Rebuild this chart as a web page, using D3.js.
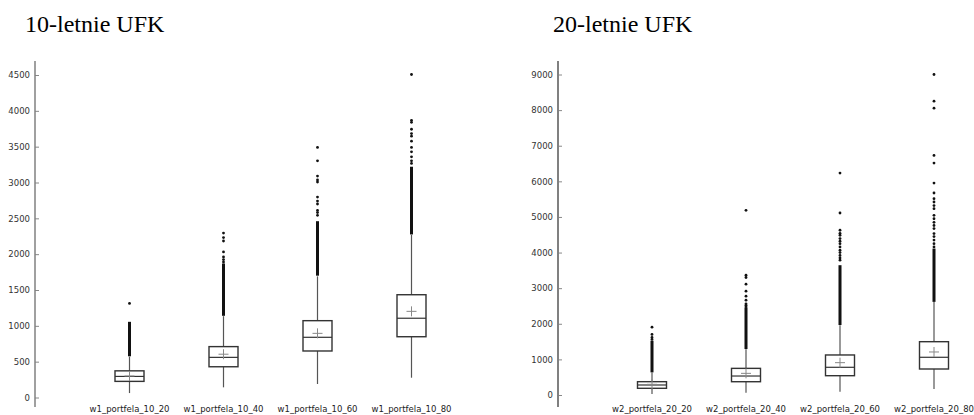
<!DOCTYPE html>
<html><head><meta charset="utf-8">
<script src="https://cdn.jsdelivr.net/npm/d3@7"></script>
<style>html,body{margin:0;padding:0;background:#fff;}svg{display:block;}</style>
</head><body>
<svg id="chart" width="974" height="415"></svg>
<script>
// ---- Panel 1: 10-letnie UFK ----
const titleA = "10-letnie UFK";
const catsA = ["w1_portfela_10_20","w1_portfela_10_40","w1_portfela_10_60","w1_portfela_10_80"];
const ticksA = [0,500,1000,1500,2000,2500,3000,3500,4000,4500];
const lowA = [62,142,188,276];
const q1A = [225,429,649,848];
const medA = [294,560,840,1106];
const q3A = [372,710,1072,1434];
const highA = [570,1135,1690,2270];
const meanA = [300,604,895,1202];
const denseA = [[575,1056],[1140,1870],[1700,2460],[2275,3220]];
const outA = [
  [1312],
  [1891,1925,1961,2031,2184,2231,2295],
  [2542,2580,2611,2700,2741,2797,3006,3035,3090,3303,3489],
  [3266,3303,3358,3428,3489,3576,3646,3683,3743,3840,3868,4507]
];

// ---- Panel 2: 20-letnie UFK ----
const titleB = "20-letnie UFK";
const catsB = ["w2_portfela_20_20","w2_portfela_20_40","w2_portfela_20_60","w2_portfela_20_80"];
const ticksB = [0,1000,2000,3000,4000,5000,6000,7000,8000,9000];
const lowB = [28,65,93,168];
const q1B = [188,373,542,730];
const medB = [281,533,778,1059];
const q3B = [374,748,1124,1497];
const highB = [630,1285,1960,2610];
const meanB = [300,608,908,1208];
const denseB = [[635,1523],[1290,2458],[1965,3645],[2615,4112]];
const outB = [
  [1560,1617,1701,1906],
  [2475,2520,2560,2663,2775,2916,3112,3299,3364,5186],
  [3785,3850,3920,4000,4065,4158,4250,4320,4392,4486,4540,4626,5111,6232],
  [4158,4250,4350,4450,4533,4673,4760,4850,4950,5046,5233,5320,5420,5513,5672,5952,6513,6728,8054,8250,9000]
];

const svg = d3.select("#chart");

function panel(cfg) {
  const g = svg.append("g");
  const y = d3.scaleLinear().domain([0, cfg.ticks[cfg.ticks.length-1]]).range(cfg.yRange);
  const x = d3.scalePoint().domain(cfg.cats).range(cfg.xRange);
  const bw = 29;

  g.append("text").attr("x", cfg.titleX).attr("y", 32)
    .attr("font-family", "'Liberation Serif', 'Times New Roman', serif")
    .attr("font-size", 24).attr("fill", "#000").text(cfg.title);

  // axis
  const axis = d3.axisRight(y).tickValues(cfg.ticks).tickSize(4).tickFormat(d3.format("d"));
  const ag = g.append("g").attr("transform", `translate(${cfg.axisX},0)`).call(axis);
  ag.select(".domain").remove();
  ag.selectAll(".tick line").attr("stroke", "#888").attr("stroke-width", 1);
  ag.selectAll(".tick text").attr("x", -5).attr("text-anchor", "end")
    .attr("font-family", "'DejaVu Sans', Verdana, sans-serif").attr("font-size", 8.5).attr("fill", "#333");
  g.append("line").attr("x1", cfg.axisX).attr("x2", cfg.axisX)
    .attr("y1", 61).attr("y2", 407).attr("stroke", "#808080").attr("stroke-width", cfg.axisW);

  const data = cfg.cats.map((c, i) => ({c, low: cfg.low[i], q1: cfg.q1[i], med: cfg.med[i], q3: cfg.q3[i],
    high: cfg.high[i], mean: cfg.mean[i], dense: cfg.dense[i], out: cfg.out[i]}));

  const bg = g.selectAll("g.box").data(data).enter().append("g").attr("class", "box");
  // whiskers
  bg.append("line").attr("x1", d => x(d.c)).attr("x2", d => x(d.c))
    .attr("y1", d => y(d.high)).attr("y2", d => y(d.q3)).attr("stroke", "#555").attr("stroke-width", 1.2);
  bg.append("line").attr("x1", d => x(d.c)).attr("x2", d => x(d.c))
    .attr("y1", d => y(d.q1)).attr("y2", d => y(d.low)).attr("stroke", "#555").attr("stroke-width", 1.2);
  // dense outlier runs
  bg.append("rect").attr("x", d => x(d.c) - 1.5).attr("width", 3)
    .attr("y", d => y(d.dense[1])).attr("height", d => y(d.dense[0]) - y(d.dense[1]))
    .attr("fill", "#111");
  // sparse outliers
  bg.selectAll("circle").data(d => d.out.map(v => ({c: d.c, v}))).enter().append("circle")
    .attr("cx", d => x(d.c)).attr("cy", d => y(d.v)).attr("r", 1.4).attr("fill", "#111");
  // box
  bg.append("rect").attr("x", d => x(d.c) - bw/2).attr("width", bw)
    .attr("y", d => y(d.q3)).attr("height", d => y(d.q1) - y(d.q3))
    .attr("fill", "#fff").attr("stroke", "#333").attr("stroke-width", 1.4);
  // median
  bg.append("line").attr("x1", d => x(d.c) - bw/2).attr("x2", d => x(d.c) + bw/2)
    .attr("y1", d => y(d.med)).attr("y2", d => y(d.med)).attr("stroke", "#333").attr("stroke-width", 1.2);
  // mean plus
  bg.append("line").attr("x1", d => x(d.c) - 5).attr("x2", d => x(d.c) + 5)
    .attr("y1", d => y(d.mean)).attr("y2", d => y(d.mean)).attr("stroke", "#888").attr("stroke-width", 1);
  bg.append("line").attr("x1", d => x(d.c)).attr("x2", d => x(d.c))
    .attr("y1", d => y(d.mean) - 5).attr("y2", d => y(d.mean) + 5).attr("stroke", "#888").attr("stroke-width", 1);
  // category labels
  g.selectAll("text.cat").data(cfg.cats).enter().append("text").attr("class", "cat")
    .attr("x", d => x(d)).attr("y", 411.5).attr("text-anchor", "middle")
    .attr("font-family", "'DejaVu Sans', Verdana, sans-serif").attr("font-size", 8.5).attr("fill", "#222")
    .text(d => d);
}

panel({title: titleA, titleX: 25, cats: catsA, ticks: ticksA, yRange: [397.5, 75], xRange: [129.5, 411.5],
  axisX: 35, axisW: 1.5, low: lowA, q1: q1A, med: medA, q3: q3A, high: highA, mean: meanA, dense: denseA, out: outA});
panel({title: titleB, titleX: 553, cats: catsB, ticks: ticksB, yRange: [395, 74.5], xRange: [652, 934],
  axisX: 558, axisW: 2, low: lowB, q1: q1B, med: medB, q3: q3B, high: highB, mean: meanB, dense: denseB, out: outB});
</script>
</body></html>
